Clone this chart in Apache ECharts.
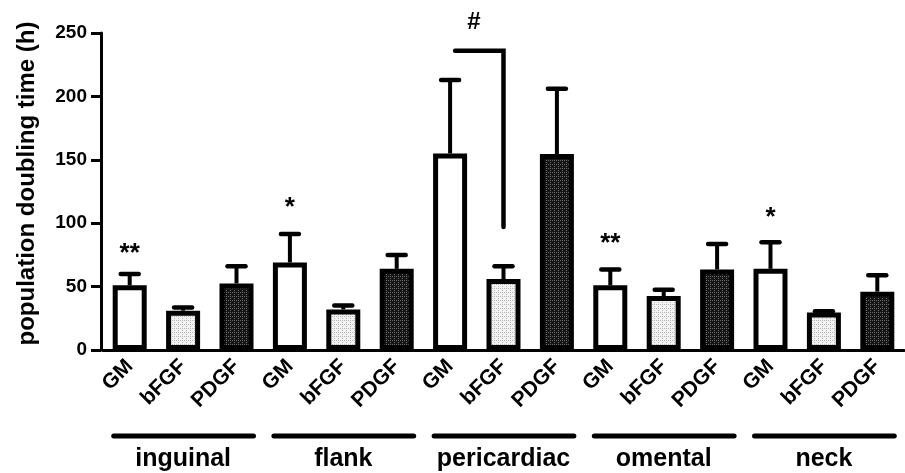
<!DOCTYPE html>
<html>
<head>
<meta charset="utf-8">
<script src="https://cdn.jsdelivr.net/npm/echarts@6/dist/echarts.min.js"></script>
<style>
html,body{margin:0;padding:0;background:#fff;}
#chart{width:905px;height:473px;}
</style>
</head>
<body>
<div id="chart"></div>
<script>
// ---- data ----
const categories = ['GM','bFGF','PDGF','GM','bFGF','PDGF','GM','bFGF','PDGF','GM','bFGF','PDGF','GM','bFGF','PDGF'];
const treatments = ['GM','bFGF','PDGF'];
const groups = ['inguinal','flank','pericardiac','omental','neck'];
const groupStart = [0,3,6,9,12];
const groupEnd = [2,5,8,11,14];
const means = [51,31,52.5, 69,32,64, 155,56,154.5, 51,42.5,63.5, 64,29.5,46];
const upper = [60,33.5,66, 91.5,35,75, 213,66,206, 63.5,47.5,83.5, 85,30.5,59];
const starIdx = [0,3,9,12];
const starText = ['**','*','**','*'];
const starY = [76,112,84,104];
const bracketFrom = 6, bracketTo = 7, bracketTop = 236, bracketBottom = 97;
const bracketText = '#';
const bracketTextY = 258;
const yTicks = [0,50,100,150,200,250];

// ---- patterns ----
function makePattern(bg, dot){
  const c = document.createElement('canvas');
  c.width = 4; c.height = 4;
  const ctx = c.getContext('2d');
  ctx.fillStyle = bg; ctx.fillRect(0,0,4,4);
  ctx.fillStyle = dot;
  ctx.fillRect(0,0,1,1); ctx.fillRect(2,2,1,1);
  ctx.fillRect(2,0,1,1);
  return {image: c, repeat: 'repeat'};
}
const fills = {
  GM: '#ffffff',
  bFGF: makePattern('#f2f2f2', '#b5b5b5'),
  PDGF: makePattern('#151515', '#6a6a6a')
};

const FONT = '"Liberation Sans", Arial, Helvetica, sans-serif';
const chart = echarts.init(document.getElementById('chart'), null, {renderer:'canvas'});

const barData = means.map((v,i)=>({value:v, itemStyle:{color: fills[categories[i]]}}));
const errData = means.map((v,i)=>[i, upper[i], v]);
const starData = starIdx.map((idx,k)=>[idx, starY[k], k]);
const groupData = groups.map((g,k)=>[groupStart[k], 0, groupEnd[k], k]);

chart.setOption({
  animation:false,
  backgroundColor:'#fff',
  grid:{left:103, right:1, top:33, bottom:123, containLabel:false},
  xAxis:{
    type:'category', data:categories,
    axisLine:{lineStyle:{color:'#000', width:3}},
    axisTick:{alignWithLabel:true, length:10, lineStyle:{color:'#000', width:3}},
    axisLabel:{interval:0, rotate:45, margin:13, color:'#000', fontWeight:'bold', fontSize:21, fontFamily:FONT}
  },
  yAxis:{
    type:'value', min:0, max:250, interval:50, offset:2,
    name:'population doubling time (h)', nameLocation:'middle', nameGap:62,
    nameTextStyle:{color:'#000', fontWeight:'bold', fontSize:24, fontFamily:FONT, padding:[0,0,0,16]},
    axisLine:{show:true, lineStyle:{color:'#000', width:3}},
    axisTick:{show:true, length:10, lineStyle:{color:'#000', width:3}},
    axisLabel:{color:'#000', fontWeight:'bold', fontSize:19, fontFamily:FONT, margin:14},
    splitLine:{show:false}
  },
  series:[
    {
      type:'bar', data:barData, barWidth:34,
      itemStyle:{borderColor:'#000', borderWidth:5},
      z:2
    },
    {
      type:'custom', data:errData, z:3, clip:false,
      encode:{x:0, y:1},
      renderItem:function(params, api){
        const top = api.coord([api.value(0), api.value(1)]);
        const base = api.coord([api.value(0), api.value(2)]);
        return {type:'group', children:[
          {type:'line', shape:{x1:base[0], y1:base[1], x2:top[0], y2:top[1]}, style:{stroke:'#000', lineWidth:4}},
          {type:'line', shape:{x1:top[0]-9, y1:top[1], x2:top[0]+9, y2:top[1]}, style:{stroke:'#000', lineWidth:4.5, lineCap:'round'}}
        ]};
      }
    },
    {
      type:'custom', data:starData, z:4, clip:false,
      encode:{x:0, y:1},
      renderItem:function(params, api){
        const p = api.coord([api.value(0), api.value(1)]);
        return {type:'text', x:p[0], y:p[1], style:{text:starText[api.value(2)], fill:'#000', font:'bold 26px '+FONT, textAlign:'center', textVerticalAlign:'middle'}};
      }
    },
    {
      type:'custom', data:[[bracketFrom, bracketTop, bracketTo, bracketBottom]], z:4, clip:false,
      encode:{x:0, y:1},
      renderItem:function(params, api){
        const a = api.coord([api.value(0), api.value(1)]);
        const b = api.coord([api.value(2), api.value(1)]);
        const c = api.coord([api.value(2), api.value(3)]);
        const t = api.coord([api.value(0), bracketTextY]);
        return {type:'group', children:[
          {type:'polyline', shape:{points:[[a[0]+5,a[1]],[b[0],b[1]],[c[0],c[1]]]}, style:{stroke:'#000', lineWidth:4.5, fill:null, lineCap:'round', lineJoin:'miter'}},
          {type:'text', x:(a[0]+b[0])/2 - 3, y:t[1], style:{text:bracketText, fill:'#000', font:'bold 24px '+FONT, textAlign:'center', textVerticalAlign:'middle'}}
        ]};
      }
    },
    {
      type:'custom', data:groupData, z:4, clip:false,
      encode:{x:0, y:1},
      renderItem:function(params, api){
        const a = api.coord([api.value(0), 0]);
        const b = api.coord([api.value(2), 0]);
        const y = a[1] + 86;
        return {type:'group', children:[
          {type:'line', shape:{x1:a[0]-16, y1:y, x2:b[0]+17, y2:y}, style:{stroke:'#000', lineWidth:5, lineCap:'round'}},
          {type:'text', x:(a[0]+b[0])/2, y:a[1]+109, style:{text:groups[api.value(3)], fill:'#000', font:'bold 25px '+FONT, textAlign:'center', textVerticalAlign:'middle'}}
        ]};
      }
    }
  ]
});
</script>
</body>
</html>
